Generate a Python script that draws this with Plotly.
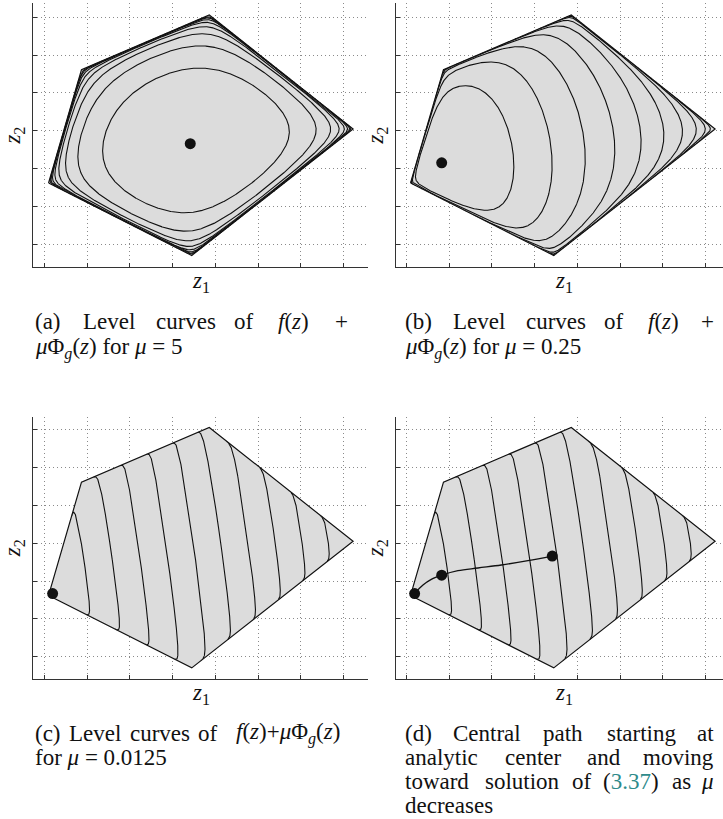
import numpy as np
import plotly.graph_objects as go

# ---------------- data ----------------
# Feasible polygon, vertices in counter-clockwise order
poly_z1 = [0.10, 3.45, 7.225, 3.86, 0.87]
poly_z2 = [1.62, -0.295, 3.05, 6.06, 4.615]

# Linear cost f(z) = c^T z
cost = [0.537, 0.065]

# Barrier weights for panels (a), (b), (c); panel (d) reuses (c)
mu_values = [5.0, 0.25, 0.0125]

# Contour levels measured above each panel's minimum value
level_first = [4.5, 0.48, 0.41]
level_step = [4.5, 0.42, 0.345]
level_count = [8, 10, 10]

# Minimizers for mu = 5, 0.25, 0.0125
dot_z1 = [3.415, 0.828, 0.195]
dot_z2 = [2.66, 2.155, 1.67]

# Central path joining them
path_z1 = [0.195, 0.39, 0.585, 0.828, 1.208, 1.677, 2.223, 2.847, 3.415]
path_z2 = [1.67, 1.895, 2.045, 2.155, 2.274, 2.345, 2.424, 2.538, 2.66]

# Grid positions
x_ticks = list(range(8))
y_ticks = list(range(7))

# ---------------- geometry / barrier ----------------
W, H = 723, 819
V = np.column_stack([poly_z1, poly_z2])
n = len(V)
A = np.zeros((n, 2))
b = np.zeros(n)
for i in range(n):
    p, q = V[i], V[(i + 1) % n]
    a = np.array([q[1] - p[1], -(q[0] - p[0])])
    a /= np.linalg.norm(a)
    A[i] = a
    b[i] = a @ p

xs = np.linspace(min(poly_z1) - 0.02, max(poly_z1) + 0.02, 1000)
ys = np.linspace(min(poly_z2) - 0.02, max(poly_z2) + 0.02, 880)
X, Y = np.meshgrid(xs, ys)
S = b[:, None, None] - A[:, 0, None, None] * X - A[:, 1, None, None] * Y
inside = (S > 0).all(axis=0)
Phi = -np.log(np.where(inside[None], S, 1.0)).sum(axis=0)
lin = cost[0] * X + cost[1] * Y
# cells whose four corners lie in the interior
valid = inside[:-1, :-1] & inside[1:, :-1] & inside[:-1, 1:] & inside[1:, 1:]


def level_curves(F, L):
    """Marching squares for F = L, returned as chained polylines."""
    ny, nx = F.shape
    B = F > L
    with np.errstate(divide="ignore", invalid="ignore"):
        th = (L - F[:, :-1]) / (F[:, 1:] - F[:, :-1])
        tv = (L - F[:-1, :]) / (F[1:, :] - F[:-1, :])
    hx = xs[None, :-1] + th * np.diff(xs)[None, :]
    vy = ys[:-1, None] + tv * np.diff(ys)[:, None]
    ch = B[:, :-1] != B[:, 1:]
    cv = B[:-1, :] != B[1:, :]
    NH = ny * (nx - 1)
    I, J = np.meshgrid(np.arange(ny - 1), np.arange(nx - 1), indexing="ij")
    ids = np.stack([I * (nx - 1) + J,             # bottom
                    NH + I * nx + J + 1,          # right
                    (I + 1) * (nx - 1) + J,       # top
                    NH + I * nx + J], axis=-1)    # left
    flags = np.stack([ch[:-1, :], cv[:, 1:], ch[1:, :], cv[:, :-1]], axis=-1)
    cnt = flags.sum(axis=-1)
    pairs = []
    m2 = valid & (cnt == 2)
    sel = flags[m2]
    idsel = ids[m2]
    order = np.argsort(~sel, axis=1, kind="stable")[:, :2]
    pairs.extend(map(tuple, np.take_along_axis(idsel, order, 1).tolist()))
    # saddle cells: cut off the corners that disagree with the centre
    for i, j in zip(*np.nonzero(valid & (cnt == 4))):
        centre = F[i:i + 2, j:j + 2].mean() > L
        e = ids[i, j]
        corners = [(B[i, j], e[0], e[3]), (B[i, j + 1], e[0], e[1]),
                   (B[i + 1, j + 1], e[1], e[2]), (B[i + 1, j], e[2], e[3])]
        for val, e1, e2 in corners:
            if val != centre:
                pairs.append((int(e1), int(e2)))

    def point(e):
        if e < NH:
            i, j = divmod(e, nx - 1)
            return hx[i, j], ys[i]
        i, j = divmod(e - NH, nx)
        return xs[j], vy[i, j]

    adj = {}
    for p, q in pairs:
        adj.setdefault(p, []).append(q)
        adj.setdefault(q, []).append(p)
    seen = set()
    lines = []
    starts = [e for e, nb in adj.items() if len(nb) == 1] + list(adj.keys())
    for s in starts:
        if s in seen:
            continue
        chain = [s]
        seen.add(s)
        cur = s
        while True:
            nxt = [e for e in adj[cur] if e not in seen]
            if not nxt:
                if len(chain) > 2 and s in adj[cur]:
                    chain.append(s)
                break
            cur = nxt[0]
            seen.add(cur)
            chain.append(cur)
        lines.append([point(e) for e in chain])
    return lines


def panel_curves(mu, first, step, count):
    F = np.where(inside, lin + mu * Phi, 0.0)
    fmin = F[inside].min()
    cx, cy = [], []
    for k in range(count):
        for line in level_curves(F, fmin + first + k * step):
            cx += [round(float(u), 4) for u, _ in line] + [None]
            cy += [round(float(v), 4) for _, v in line] + [None]
    return cx, cy


curves = [panel_curves(mu_values[m], level_first[m], level_step[m], level_count[m])
          for m in range(3)]

# ---------------- layout of the four panels (pixels) ----------------
# (left, right, top, bottom, x of z1=0 gridline, y of z2=0 gridline)
panels = [
    (33.3, 368.3, 3.3, 267.3, 44.3, 244.3),
    (396.3, 723.0, 3.3, 267.3, 406.3, 244.3),
    (33.3, 368.3, 416.7, 679.3, 44.3, 656.7),
    (396.3, 723.0, 416.7, 679.3, 406.3, 656.7),
]
PX_X = 42.74
PX_Y = 37.83

fig = go.Figure()
layout = {}
fill_col = "#dcdcdc"
ink = "#111111"

for k, (l, r, t, bt, x0, y0) in enumerate(panels):
    sfx = "" if k == 0 else str(k + 1)
    xa, ya = "x" + sfx, "y" + sfx
    xr = [(l - x0) / PX_X, (r - x0) / PX_X]
    yr = [(y0 - bt) / PX_Y, (y0 - t) / PX_Y]
    axis_common = dict(
        showline=True, linecolor="#333333", linewidth=1.3, mirror=False,
        ticks="inside", ticklen=4, tickwidth=1, tickcolor="#333333",
        showticklabels=False, tickmode="array",
        showgrid=True, gridcolor="#8a8a8a", gridwidth=1, griddash="1px,3px",
        zeroline=False, fixedrange=True,
    )
    layout["xaxis" + sfx] = dict(axis_common, domain=[l / W, r / W], range=xr,
                                 tickvals=x_ticks, anchor=ya)
    layout["yaxis" + sfx] = dict(axis_common, domain=[1 - bt / H, 1 - t / H], range=yr,
                                 tickvals=y_ticks, anchor=xa)

    # shaded feasible set
    fig.add_trace(go.Scatter(
        x=poly_z1 + [poly_z1[0]], y=poly_z2 + [poly_z2[0]], mode="lines",
        fill="toself", fillcolor=fill_col, line=dict(width=0, color=fill_col),
        hoverinfo="skip", showlegend=False, xaxis=xa, yaxis=ya))

    # level curves of f + mu * Phi
    cx, cy = curves[min(k, 2)]
    fig.add_trace(go.Scatter(
        x=cx, y=cy, mode="lines", line=dict(width=1.1, color=ink),
        connectgaps=False, hoverinfo="skip", showlegend=False, xaxis=xa, yaxis=ya))

    # polygon outline
    fig.add_trace(go.Scatter(
        x=poly_z1 + [poly_z1[0]], y=poly_z2 + [poly_z2[0]], mode="lines",
        line=dict(width=1.2, color=ink), hoverinfo="skip", showlegend=False,
        xaxis=xa, yaxis=ya))

    if k == 3:
        fig.add_trace(go.Scatter(
            x=path_z1, y=path_z2, mode="lines", line=dict(width=1.3, color=ink, shape="spline"),
            hoverinfo="skip", showlegend=False, xaxis=xa, yaxis=ya))
        fig.add_trace(go.Scatter(
            x=dot_z1, y=dot_z2, mode="markers", marker=dict(size=11, color=ink),
            hoverinfo="skip", showlegend=False, xaxis=xa, yaxis=ya))
    else:
        fig.add_trace(go.Scatter(
            x=[dot_z1[k]], y=[dot_z2[k]], mode="markers", marker=dict(size=11, color=ink),
            hoverinfo="skip", showlegend=False, xaxis=xa, yaxis=ya))

# ---------------- text ----------------
serif = "Liberation Serif"
annotations = []


def put(text, x, y, anchor="left", size=23, angle=0):
    annotations.append(dict(
        text=text, x=x / W, y=1 - y / H, xref="paper", yref="paper",
        xanchor=anchor, yanchor="middle", showarrow=False, textangle=angle,
        font=dict(family=serif, size=size, color="#111111")))


# axis labels, centred on each 335 px wide axis
for (l, r, t, bt, x0, y0) in panels:
    put("<i>z</i><sub>1</sub>", l + 167.5, bt + 15, "center", size=23)
    put("<i>z</i><sub>2</sub>", l - 19, (t + bt) / 2, "center", size=23, angle=-90)

mu = "<i>μ</i>"
fz = "<i>f</i>(<i>z</i>)"
phig = "Φ<sub><i>g</i></sub>(<i>z</i>)"

caption_rows = [
    # (y, [(text, x, anchor), ...])
    (322, [("(a)", 33, "left"), ("Level", 109, "center"), ("curves", 186, "center"),
           ("of", 244, "center"), (fz, 293, "center"), ("+", 350, "right")]),
    (348, [(mu + phig + " for " + mu + " = 5", 33, "left")]),
    (322, [("(b)", 403, "left"), ("Level", 479, "center"), ("curves", 556, "center"),
           ("of", 614, "center"), (fz, 663, "center"), ("+", 716, "right")]),
    (348, [(mu + phig + " for " + mu + " = 0.25", 403, "left")]),
    (733, [("(c)", 33, "left"), ("Level", 95, "center"), ("curves", 160, "center"),
           ("of", 208, "center"), (fz + "+" + mu + phig, 288, "center")]),
    (757, [("for " + mu + " = 0.0125", 33, "left")]),
    (733, [("(d)", 403, "left"), ("Central", 487, "center"), ("path", 563, "center"),
           ("starting", 641, "center"), ("at", 716, "right")]),
    (757, [("analytic", 403, "left"), ("center", 533.6, "center"), ("and", 603.7, "center"),
           ("moving", 716, "right")]),
    (781, [("toward", 403, "left"), ("solution", 522.6, "center"), ("of", 581.9, "center"),
           ("(<span style='color:#2e8b8b'>3.37</span>)", 631, "center"), ("as", 681.2, "center"),
           (mu, 716, "right")]),
    (805, [("decreases", 403, "left")]),
]
for y, items in caption_rows:
    for text, x, anchor in items:
        put(text, x, y, anchor)

fig.update_layout(
    width=W, height=H, margin=dict(l=0, r=0, t=0, b=0),
    paper_bgcolor="white", plot_bgcolor="white", showlegend=False,
    annotations=annotations, **layout)

fig.write_html("out.html")
